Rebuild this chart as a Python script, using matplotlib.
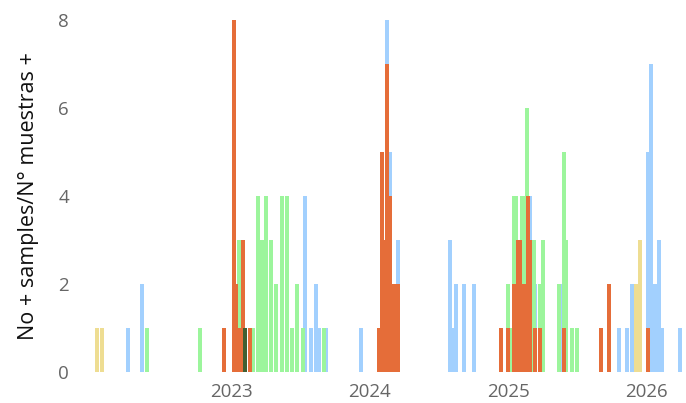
import numpy as np
import matplotlib
matplotlib.use('Agg')
import matplotlib.pyplot as plt
import matplotlib.dates as mdates

# weekly sample counts per group (dates)
blue_dates = ['2022-04-03', '2022-05-08', '2023-07-13', '2023-07-29', '2023-08-11',
              '2023-08-19', '2023-09-07', '2023-12-08', '2024-02-15', '2024-02-23',
              '2024-03-15', '2024-07-31', '2024-08-05', '2024-08-16', '2024-09-06',
              '2024-10-02', '2025-02-28', '2025-03-13', '2025-04-03', '2025-05-23',
              '2025-10-21', '2025-11-11', '2025-11-25', '2025-12-05', '2026-01-06',
              '2026-01-14', '2026-01-25', '2026-02-04', '2026-02-12', '2026-04-01']
blue_counts = [1, 2, 4, 1, 2,
               1, 1, 1, 8, 5,
               3, 3, 1, 2, 2,
               2, 4, 2, 1, 2,
               1, 1, 2, 1, 5,
               7, 2, 3, 1, 1]

green_dates = ['2022-05-21', '2022-10-08', '2023-01-20', '2023-02-26', '2023-03-11',
               '2023-03-21', '2023-04-01', '2023-04-14', '2023-04-27', '2023-05-13',
               '2023-05-27', '2023-06-09', '2023-06-22', '2023-07-08', '2023-09-01',
               '2024-12-31', '2025-01-08', '2025-01-16', '2025-01-22', '2025-02-07',
               '2025-02-12', '2025-02-20', '2025-03-10', '2025-03-26', '2025-04-03',
               '2025-05-15', '2025-05-29', '2025-06-03', '2025-06-19', '2025-07-02']
green_counts = [1, 1, 3, 1, 4,
                3, 4, 3, 2, 4,
                4, 1, 2, 1, 1,
                2, 1, 4, 4, 4,
                4, 6, 3, 2, 3,
                2, 5, 3, 1, 1]

orange_dates = ['2022-12-11', '2023-01-06', '2023-01-12', '2023-01-22', '2023-01-30',
                '2023-02-18', '2024-01-25', '2024-02-02', '2024-02-08', '2024-02-15',
                '2024-02-23', '2024-03-05', '2024-03-15', '2024-12-13', '2024-12-31',
                '2025-01-16', '2025-01-27', '2025-02-01', '2025-02-12', '2025-02-22',
                '2025-02-28', '2025-03-13', '2025-03-26', '2025-05-29', '2025-09-04',
                '2025-09-25', '2026-01-06']
orange_counts = [1, 8, 2, 1, 3,
                 1, 1, 5, 3, 7,
                 4, 2, 2, 1, 1,
                 2, 3, 3, 2, 4,
                 3, 1, 1, 1, 1,
                 2, 1]

yellow_dates = ['2022-01-11', '2022-01-22', '2025-12-05', '2025-12-16']
yellow_counts = [1, 1, 2, 3]

dkgreen_dates = ['2023-02-04']
dkgreen_counts = [1]

series = [
    (blue_dates, blue_counts, '#a2d0fe'),
    (green_dates, green_counts, '#9cf59c'),
    (orange_dates, orange_counts, '#e56d39'),
    (yellow_dates, yellow_counts, '#eedd92'),
    (dkgreen_dates, dkgreen_counts, '#415f32'),
]

fig = plt.figure(figsize=(6.86, 4.03), dpi=100)
ax = fig.add_axes([0.131, 0.077, 0.869, 0.873])

for dates, counts, col in series:
    x = mdates.date2num(np.array(dates, dtype='datetime64[D]'))
    ax.bar(x, counts, width=10.6, color=col, linewidth=0, align='center')

x0 = mdates.date2num(np.datetime64('2021-12-22'))
x1 = mdates.date2num(np.datetime64('2026-04-16'))
ax.set_xlim(x0, x1)
ax.set_ylim(0, 8)

years = ['2023', '2024', '2025', '2026']
ax.set_xticks([mdates.date2num(np.datetime64(y + '-01-01')) for y in years])
ax.set_xticklabels(years)
ax.set_yticks([0, 2, 4, 6, 8])

for s in ax.spines.values():
    s.set_visible(False)
ax.tick_params(axis='both', length=0, labelsize=13.5, labelcolor='#666666',
               labelfontfamily='Open Sans')
ax.tick_params(axis='y', pad=15)
ax.tick_params(axis='x', pad=8)

ax.set_ylabel('No + samples/N° muestras +', fontsize=15.5, family='Open Sans',
              color='#111111', labelpad=14)

fig.savefig('out.png', dpi=100)
